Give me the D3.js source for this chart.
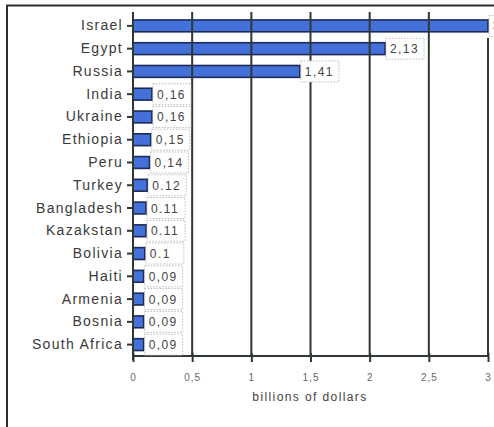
<!DOCTYPE html>
<html><head><meta charset="utf-8">
<script src="https://cdn.jsdelivr.net/npm/d3@7"></script>
<style>
html,body{margin:0;padding:0;background:#fff;}
svg{display:block;font-family:"Liberation Sans",Arial,sans-serif;}
</style></head>
<body>
<svg id="c" width="494" height="427"></svg>
<script>
const countries = ["Israel","Egypt","Russia","India","Ukraine","Ethiopia","Peru","Turkey","Bangladesh","Kazakstan","Bolivia","Haiti","Armenia","Bosnia","South Africa"];
const values = [3.0, 2.13, 1.41, 0.16, 0.16, 0.15, 0.14, 0.12, 0.11, 0.11, 0.1, 0.09, 0.09, 0.09, 0.09];
const valueLabels = ["3","2,13","1,41","0,16","0,16","0,15","0,14","0.12","0.11","0.11","0.1","0,09","0,09","0,09","0,09"];
const xTickValues = [0, 0.5, 1, 1.5, 2, 2.5, 3];
const xTickLabels = ["0","0,5","1","1,5","2","2,5","3"];
const axisTitle = "billions of dollars";

const svg = d3.select("#c");
const x = d3.scaleLinear().domain([0, 3]).range([133, 488]);
const y = d3.scaleBand().domain(countries).range([14.5, 356]).paddingInner(0.48).paddingOuter(0.24);

// outer frame
svg.append("rect").attr("x", 7).attr("y", 5.5).attr("width", 500).attr("height", 440)
  .attr("fill", "none").attr("stroke", "#2e2e2e").attr("stroke-width", 2);

// bars
svg.append("g").selectAll("rect").data(countries).join("rect")
  .attr("x", x(0))
  .attr("y", d => y(d))
  .attr("width", (d, i) => x(values[i]) - x(0))
  .attr("height", y.bandwidth())
  .attr("fill", "#4470da")
  .attr("stroke", "#1c2a55")
  .attr("stroke-width", 1.6);

// gridlines (drawn over bars)
svg.append("g").selectAll("line").data(xTickValues.slice(1)).join("line")
  .attr("x1", d => x(d)).attr("x2", d => x(d))
  .attr("y1", d => d === 3 ? 38 : 12).attr("y2", 356)
  .attr("stroke", "#2f3833").attr("stroke-width", 2);

// x axis
const xAxis = d3.axisBottom(x).tickValues(xTickValues)
  .tickFormat((d, i) => xTickLabels[i]).tickSize(6).tickPadding(12);
const gx = svg.append("g").attr("transform", "translate(0,356)").call(xAxis);
gx.select(".domain").attr("stroke", "#2f3833").attr("stroke-width", 2).attr("d", "M133,0H488");
gx.selectAll(".tick line").attr("stroke", "#2f3833").attr("stroke-width", 2).attr("y1", -3);
gx.selectAll(".tick text").attr("fill", "#666").attr("font-size", 10).attr("letter-spacing", 1);

// y axis
const yAxis = d3.axisLeft(y).tickSize(6).tickPadding(4);
const gy = svg.append("g").attr("transform", "translate(133,0)").call(yAxis);
gy.select(".domain").attr("stroke", "#2f3833").attr("stroke-width", 2).attr("d", "M0,12V360");
gy.selectAll(".tick line").attr("stroke", "#2f3833").attr("stroke-width", 2);
gy.selectAll(".tick text").attr("fill", "#3a3a3a").attr("font-size", 14).attr("letter-spacing", 1.3);

// value labels
const lg = svg.append("g").selectAll("g").data(countries).join("g")
  .attr("transform", (d, i) => `translate(${x(values[i]) + 1},${y(d) + y.bandwidth() / 2})`);
lg.append("rect").attr("x", 0).attr("y", -10.5).attr("width", 38).attr("height", 21)
  .attr("fill", "#fff").attr("stroke", "#bbb").attr("stroke-width", 1).attr("stroke-dasharray", "1.5,1.5");
lg.append("text").attr("x", 4).attr("y", 4.5).attr("font-size", 12).attr("letter-spacing", 1.4).attr("fill", "#444")
  .text((d, i) => valueLabels[i]);

// axis title
svg.append("text").attr("x", 310).attr("y", 401).attr("text-anchor", "middle")
  .attr("font-size", 12).attr("letter-spacing", 1.4).attr("fill", "#444").text(axisTitle);
</script>
</body></html>
